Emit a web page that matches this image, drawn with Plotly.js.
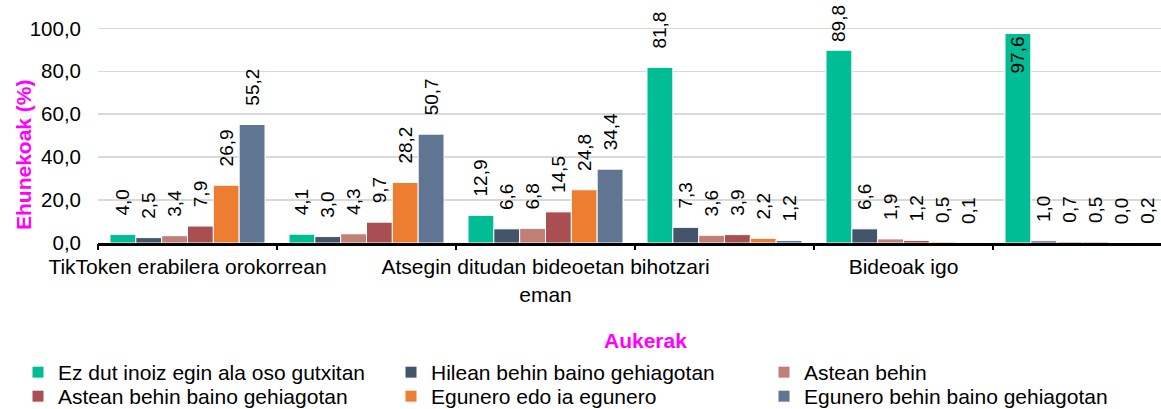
<!DOCTYPE html>
<html>
<head>
<meta charset="utf-8">
<script src="https://cdn.plot.ly/plotly-3.0.1.min.js"></script>
<style>html,body{margin:0;padding:0;background:#fff;}#chart{width:1161px;height:409px;}</style>
</head>
<body>
<div id="chart"></div>
<script>
// ---- data ----
const categoryIndex = [0, 1, 2, 3, 4, 5];
const categoryLabels = [
  'TikToken erabilera orokorrean',
  'Atsegin ditudan bideoetan bihotzari<br>eman',
  'Bideoak igo'
];
const seriesNames = [
  'Ez dut inoiz egin ala oso gutxitan',
  'Hilean behin baino gehiagotan',
  'Astean behin',
  'Astean behin baino gehiagotan',
  'Egunero edo ia egunero',
  'Egunero behin baino gehiagotan'
];
const ezDutInoiz      = [4.0, 4.1, 12.9, 81.8, 89.8, 97.6];
const hileanBehin     = [2.5, 3.0, 6.6, 7.3, 6.6, 1.0];
const asteanBehin     = [3.4, 4.3, 6.8, 3.6, 1.9, 0.7];
const asteanGehiago   = [7.9, 9.7, 14.5, 3.9, 1.2, 0.5];
const eguneroIa       = [26.9, 28.2, 24.8, 2.2, 0.5, 0.0];
const eguneroGehiago  = [55.2, 50.7, 34.4, 1.2, 0.1, 0.2];
const seriesValues = [ezDutInoiz, hileanBehin, asteanBehin, asteanGehiago, eguneroIa, eguneroGehiago];
const yTitle = 'Ehunekoak (%)';
const xTitle = 'Aukerak';

// ---- styling ----
const colors = ['#00bd96', '#44546a', '#c27f76', '#a94f51', '#ed7d31', '#5f7592'];
const FONT = 'Arial, "Liberation Sans", sans-serif';
const FS = 21, FS_Y = 20.5, FS_LABEL = 19;
const W = 1161, H = 409;
const M = {l: 98, r: 0, t: 0, b: 166, autoexpand: false};
const PLOT_H = H - M.t - M.b;
const PLOT_W = W - M.l - M.r;
const PX_PER_CAT = 179;
const Y_MAX = 113.2;
const X_RANGE = [-0.5, -0.5 + PLOT_W / PX_PER_CAT];
const pxPerUnit = PLOT_H / Y_MAX;
const NBSP = '\u00a0';
const LEGEND_COLS = 3;

// label placement rule (keeps labels inside the figure, like the spreadsheet does)
function labelLayout(v) {
  const txt = v.toFixed(1);
  const labelPx = (0.556 * (txt.length - 1) + 0.278) * FS_LABEL;
  const headroom = (Y_MAX - v) * pxPerUnit;
  const free = headroom - 3 - labelPx - 2;
  if (free < 0) return {pos: 'inside', tpl: '%{y:.1f}'};
  const n = Math.max(0, Math.min(3, Math.floor(free / (0.278 * FS_LABEL))));
  return {pos: 'outside', tpl: NBSP.repeat(n) + '%{y:.1f}'};
}

const traces = seriesValues.map((vals, i) => {
  const lay = vals.map(labelLayout);
  return {
    type: 'bar',
    name: seriesNames[i],
    legend: i < LEGEND_COLS ? 'legend' : 'legend2',
    x: categoryIndex,
    y: vals,
    marker: {color: colors[i], line: {color: '#ffffff', width: 1}},
    texttemplate: lay.map(d => d.tpl),
    textposition: lay.map(d => d.pos),
    insidetextanchor: 'end',
    textangle: -90,
    constraintext: 'none',
    cliponaxis: false,
    textfont: {family: FONT, size: FS_LABEL, color: '#000'},
    insidetextfont: {family: FONT, size: FS_LABEL, color: '#000'},
    outsidetextfont: {family: FONT, size: FS_LABEL, color: '#000'},
    hoverinfo: 'skip'
  };
});
// carrier for the between-category tick marks
traces.push({type: 'scatter', x: [], y: [], xaxis: 'x2', yaxis: 'y', showlegend: false, hoverinfo: 'skip'});

const boundaryTicks = categoryIndex.map(i => i - 0.5);
const labelledTicks = categoryIndex.filter(i => i % 2 === 0);

function legendRow(topPx) {
  return {
    orientation: 'h',
    x: (18 - M.l) / PLOT_W,
    xanchor: 'left',
    y: (PLOT_H - topPx) / PLOT_H,
    yanchor: 'top',
    entrywidth: 328,
    entrywidthmode: 'pixels',
    traceorder: 'normal',
    font: {family: FONT, size: FS, color: '#000'},
    bgcolor: 'rgba(0,0,0,0)'
  };
}

const layout = {
  width: W, height: H,
  margin: M,
  paper_bgcolor: '#fff', plot_bgcolor: '#fff',
  separators: ', ',
  font: {family: FONT, size: FS, color: '#000'},
  barmode: 'group',
  bargap: 0.134,
  bargroupgap: 0,
  showlegend: true,
  xaxis: {
    range: X_RANGE,
    tickvals: labelledTicks,
    ticktext: categoryLabels,
    ticks: '',
    ticklabelstandoff: 3,
    tickfont: {family: FONT, size: FS, color: '#000'},
    showgrid: false,
    zeroline: false,
    showline: true,
    linecolor: '#000',
    linewidth: 3,
    fixedrange: true
  },
  xaxis2: {
    overlaying: 'x',
    anchor: 'y',
    side: 'bottom',
    range: X_RANGE,
    tickvals: boundaryTicks,
    ticks: 'outside',
    ticklen: 6,
    tickwidth: 2.5,
    tickcolor: '#000',
    showticklabels: false,
    showgrid: false,
    zeroline: false,
    showline: false
  },
  yaxis: {
    range: [0, Y_MAX],
    tick0: 0, dtick: 20,
    tickformat: '.1f',
    ticks: '',
    ticklabelstandoff: 16,
    tickfont: {family: FONT, size: FS_Y, color: '#000'},
    showgrid: true,
    gridcolor: '#d9d9d9',
    gridwidth: 1.5,
    zeroline: false,
    showline: false,
    fixedrange: true
  },
  legend: legendRow(352),
  legend2: legendRow(376),
  annotations: [
    {
      text: '<b>' + yTitle + '</b>',
      textangle: -90,
      xref: 'paper', yref: 'paper',
      x: (23 - M.l) / PLOT_W, y: (PLOT_H - 155) / PLOT_H,
      xanchor: 'center', yanchor: 'middle',
      showarrow: false,
      font: {family: FONT, size: FS, color: '#ff00ff'}
    },
    {
      text: '<b>' + xTitle + '</b>',
      xref: 'paper', yref: 'paper',
      x: (645 - M.l) / PLOT_W, y: (PLOT_H - 340) / PLOT_H,
      xanchor: 'center', yanchor: 'middle',
      showarrow: false,
      font: {family: FONT, size: FS, color: '#ff00ff'}
    }
  ]
};

Plotly.newPlot('chart', traces, layout, {staticPlot: true, displayModeBar: false});
</script>
</body>
</html>
